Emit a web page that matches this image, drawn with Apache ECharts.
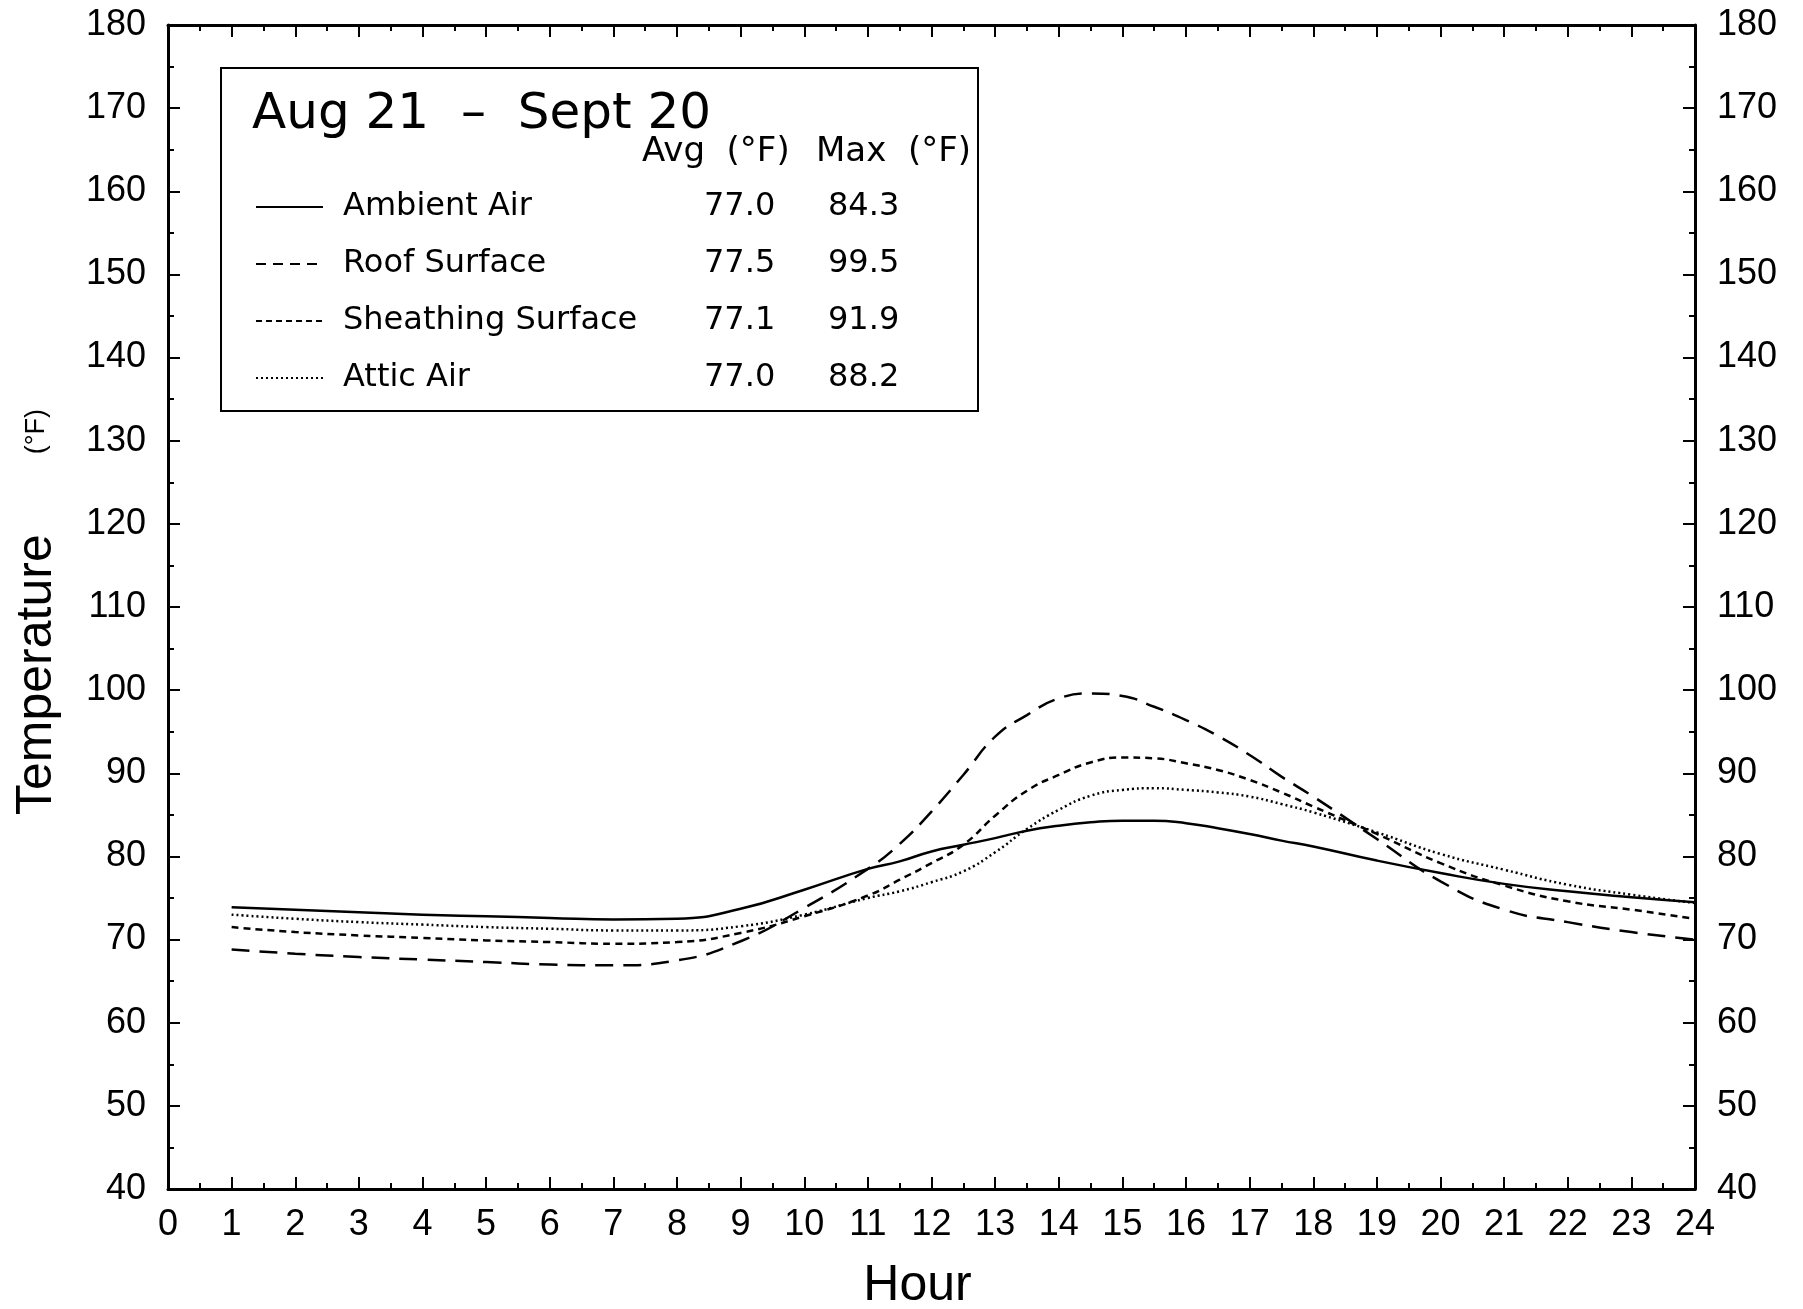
<!DOCTYPE html>
<html>
<head>
<meta charset="utf-8">
<script src="https://cdn.jsdelivr.net/npm/echarts@6/dist/echarts.min.js"></script>
<style>
  html, body { margin: 0; padding: 0; background: #fff; }
  #chart { width: 1803px; height: 1309px; }
</style>
</head>
<body>
<div id="chart"></div>
<script>
// averages by hour of day, Aug 21 - Sept 20 (read every half hour around the afternoon peak)
const hours = [1, 2, 3, 4, 5, 6, 7, 8, 9, 10, 11, 11.5, 12, 12.5, 13, 13.5, 14, 14.5, 15, 15.5,
  16, 16.5, 17, 17.5, 18, 19, 20, 21, 22, 23, 24];
const ambientAir = [73.9, 73.6, 73.3, 73.0, 72.8, 72.6, 72.4, 72.5, 73.7, 76.0, 78.5, 79.4, 80.6,
  81.4, 82.2, 83.1, 83.7, 84.1, 84.3, 84.3, 84.0, 83.4, 82.7, 81.9, 81.2, 79.5, 78.0, 76.7, 75.8,
  75.1, 74.5];
const roofSurface = [68.8, 68.3, 67.9, 67.6, 67.3, 67.0, 66.9, 67.5, 69.8, 73.8, 78.5, 81.5, 85.4,
  89.8, 94.4, 97.0, 99.0, 99.6, 99.3, 98.0, 96.4, 94.5, 92.2, 89.6, 87.2, 82.1, 77.0, 73.6, 72.1,
  70.9, 70.0];
const sheathingSurface = [71.5, 70.9, 70.5, 70.2, 69.9, 69.7, 69.5, 69.7, 70.8, 72.8, 75.3, 77.2,
  79.2, 81.4, 84.9, 87.9, 89.8, 91.3, 91.9, 91.8, 91.2, 90.4, 89.2, 87.7, 86.0, 82.7, 79.2, 76.5,
  74.6, 73.6, 72.5];
const atticAir = [73.0, 72.5, 72.1, 71.8, 71.5, 71.3, 71.1, 71.1, 71.6, 73.0, 75.0, 75.8, 76.9,
  78.2, 80.5, 83.3, 85.6, 87.3, 88.0, 88.2, 88.0, 87.7, 87.2, 86.3, 85.3, 82.9, 80.3, 78.4, 76.6,
  75.4, 74.4];

const seriesNames = ["Ambient Air", "Roof Surface", "Sheathing Surface", "Attic Air"];
const avgTemps = ["77.0", "77.5", "77.1", "77.0"];
const maxTemps = ["84.3", "99.5", "91.9", "88.2"];

const periodLabel = "Aug 21  \u2013  Sept 20";

const FONT = "Liberation Sans";
const LFONT = "DejaVu Sans";

function pairs(vals) {
  return hours.map((h, i) => [h, vals[i]]);
}

let chartDom = document.getElementById("chart");
let myChart = echarts.init(chartDom);

const tickStyle = { show: true, inside: true, length: 12, lineStyle: { color: "#000", width: 2 } };
const minorStyle = { show: true, splitNumber: 2, length: 6, lineStyle: { color: "#000", width: 2 } };
const lineAxis = { show: true, onZero: false, lineStyle: { color: "#000", width: 3 } };

function lineSeries(name, vals, type) {
  return {
    name: name,
    type: "line",
    data: pairs(vals),
    smooth: 0.5,
    symbol: "none",
    itemStyle: { color: "#000" },
    lineStyle: { color: "#000", width: 2.5, type: type },
  };
}

let option = {
  backgroundColor: "#fff",
  animation: false,
  color: ["#000"],
  grid: { left: 168, right: 108, top: 25, bottom: 120, containLabel: false, outerBoundsMode: "none" },
  xAxis: [
    {
      type: "value",
      min: 0,
      max: 24,
      interval: 1,
      position: "bottom",
      name: "Hour",
      nameLocation: "middle",
      nameGap: 72,
      nameTextStyle: { fontFamily: FONT, fontSize: 50, color: "#000", padding: [0, 28, 0, 0] },
      axisLine: lineAxis,
      axisTick: tickStyle,
      minorTick: minorStyle,
      splitLine: { show: false },
      axisLabel: { fontFamily: FONT, fontSize: 36, color: "#000", margin: 18 },
    },
    {
      type: "value",
      min: 0,
      max: 24,
      interval: 1,
      position: "top",
      axisLine: lineAxis,
      axisTick: tickStyle,
      minorTick: minorStyle,
      splitLine: { show: false },
      axisLabel: { show: false },
    },
  ],
  yAxis: [
    {
      type: "value",
      min: 40,
      max: 180,
      interval: 10,
      position: "left",
      name: "{t|Temperature}{u|(\u00b0F)}",
      nameLocation: "middle",
      nameGap: 106,
      nameTextStyle: {
        color: "#000",
        rich: {
          t: { fontFamily: FONT, fontSize: 50, color: "#000" },
          u: { fontFamily: FONT, fontSize: 27, color: "#000", padding: [0, 10, 0, 80] },
        },
      },
      axisLine: lineAxis,
      axisTick: tickStyle,
      minorTick: minorStyle,
      splitLine: { show: false },
      axisLabel: { fontFamily: FONT, fontSize: 36, color: "#000", margin: 22 },
    },
    {
      type: "value",
      min: 40,
      max: 180,
      interval: 10,
      position: "right",
      axisLine: lineAxis,
      axisTick: tickStyle,
      minorTick: minorStyle,
      splitLine: { show: false },
      axisLabel: { fontFamily: FONT, fontSize: 36, color: "#000", margin: 22 },
    },
  ],
  legend: {
    orient: "vertical",
    left: 255,
    top: 189,
    padding: 0,
    itemWidth: 67,
    itemHeight: 20,
    itemGap: 21,
    selectedMode: false,
    data: [
      { name: seriesNames[0], lineStyle: { type: "solid" } },
      { name: seriesNames[1], lineStyle: { type: [10, 7] } },
      { name: seriesNames[2], lineStyle: { type: [6, 4] } },
      { name: seriesNames[3], lineStyle: { type: [2, 3] } },
    ],
    itemStyle: { opacity: 0 },
    lineStyle: { width: 2 },
    formatter: function (name) {
      const i = seriesNames.indexOf(name);
      return "{n|" + name + "}{a|" + avgTemps[i] + "}{m|" + maxTemps[i] + "}";
    },
    textStyle: {
      fontFamily: LFONT,
      fontSize: 32,
      color: "#000",
      lineHeight: 36,
      rich: {
        n: { fontFamily: LFONT, fontSize: 32, width: 361, padding: [0, 0, 0, 15], lineHeight: 36 },
        a: { fontFamily: LFONT, fontSize: 32, width: 124, lineHeight: 36 },
        m: { fontFamily: LFONT, fontSize: 32, width: 90, lineHeight: 36 },
      },
    },
  },
  graphic: [
    {
      type: "rect",
      shape: { x: 221, y: 68, width: 757, height: 343 },
      style: { fill: "transparent", stroke: "#000", lineWidth: 2 },
      z: 1,
    },
    {
      type: "text",
      x: 252,
      y: 115,
      style: { text: periodLabel, fontFamily: LFONT, fontSize: 50, fill: "#000", verticalAlign: "middle" },
    },
    {
      type: "text",
      x: 642,
      y: 152,
      style: { text: "Avg  (\u00b0F)", fontFamily: LFONT, fontSize: 34, fill: "#000", verticalAlign: "middle" },
    },
    {
      type: "text",
      x: 816,
      y: 152,
      style: { text: "Max  (\u00b0F)", fontFamily: LFONT, fontSize: 34, fill: "#000", verticalAlign: "middle" },
    },
  ],
  series: [
    lineSeries(seriesNames[0], ambientAir, "solid"),
    lineSeries(seriesNames[1], roofSurface, [18, 10]),
    lineSeries(seriesNames[2], sheathingSurface, [7, 5]),
    lineSeries(seriesNames[3], atticAir, [2, 3]),
  ],
};

option && myChart.setOption(option);
</script>
</body>
</html>
